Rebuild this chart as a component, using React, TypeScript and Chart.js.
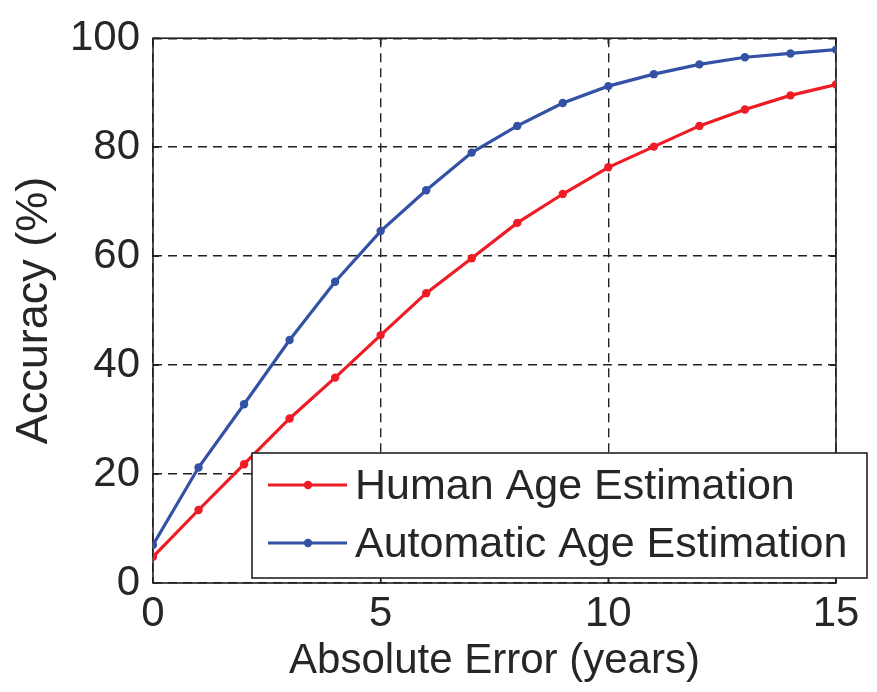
import React, { useEffect, useRef } from "react";
import { Chart, registerables } from "chart.js";

Chart.register(...registerables);

const errorYears = [0, 1, 2, 3, 4, 5, 6, 7, 8, 9, 10, 11, 12, 13, 14, 15];
const humanAccuracy = [4.8, 13.4, 21.8, 30.2, 37.7, 45.5, 53.2, 59.6, 66.1, 71.4, 76.3, 80.1, 83.9, 86.9, 89.5, 91.5];
const automaticAccuracy = [7.0, 21.2, 32.8, 44.6, 55.3, 64.6, 72.1, 79.0, 83.9, 88.1, 91.2, 93.4, 95.2, 96.5, 97.2, 97.9];
const seriesLabels = ["Human Age Estimation", "Automatic Age Estimation"];
const xTickValues = [0, 5, 10, 15];
const yTickValues = [0, 20, 40, 60, 80, 100];

const RED = "#ee1d25";
const BLUE = "#3352a6";
const TEXT = "#262626";
const FONT = "'Liberation Sans', Arial, Helvetica, sans-serif";

const framePlugin = {
  id: "frame",
  beforeDatasetsDraw(chart: any) {
    const { ctx, chartArea } = chart;
    const { left, right, top, bottom } = chartArea;
    ctx.save();
    ctx.strokeStyle = "#222";
    ctx.lineWidth = 1.6;
    ctx.setLineDash([]);
    ctx.strokeRect(left, top, right - left, bottom - top);
    const tl = 6;
    const xs = chart.scales.x;
    const ys = chart.scales.y;
    ctx.beginPath();
    xTickValues.forEach((v) => {
      const px = xs.getPixelForValue(v);
      ctx.moveTo(px, bottom);
      ctx.lineTo(px, bottom - tl);
      ctx.moveTo(px, top);
      ctx.lineTo(px, top + tl);
    });
    yTickValues.forEach((v) => {
      const py = ys.getPixelForValue(v);
      ctx.moveTo(left, py);
      ctx.lineTo(left + tl, py);
      ctx.moveTo(right, py);
      ctx.lineTo(right - tl, py);
    });
    ctx.stroke();
    ctx.restore();
  },
};

const legendPlugin = {
  id: "boxLegend",
  afterDatasetsDraw(chart: any) {
    const { ctx } = chart;
    const boxL = 252, boxT = 453, boxR = 867, boxB = 578;
    ctx.save();
    ctx.fillStyle = "#ffffff";
    ctx.fillRect(boxL, boxT, boxR - boxL, boxB - boxT);
    ctx.strokeStyle = "#222";
    ctx.lineWidth = 1.6;
    ctx.strokeRect(boxL, boxT, boxR - boxL, boxB - boxT);
    const rows = [485, 543];
    chart.data.datasets.forEach((ds: any, i: number) => {
      const y = rows[i];
      ctx.strokeStyle = ds.borderColor;
      ctx.lineWidth = 3.2;
      ctx.beginPath();
      ctx.moveTo(268, y);
      ctx.lineTo(347, y);
      ctx.stroke();
      ctx.fillStyle = ds.borderColor;
      ctx.beginPath();
      ctx.arc(308, y, 4.2, 0, Math.PI * 2);
      ctx.fill();
      ctx.fillStyle = TEXT;
      ctx.font = `43px ${FONT}`;
      ctx.textBaseline = "middle";
      ctx.textAlign = "left";
      ctx.fillText(ds.label, 355, y + 2);
    });
    ctx.restore();
  },
};

export default function App() {
  const ref = useRef<HTMLCanvasElement | null>(null);
  useEffect(() => {
    if (!ref.current) return;
    const mk = (ys: number[]) => errorYears.map((x, i) => ({ x, y: ys[i] }));
    const chart = new Chart(ref.current, {
      type: "line",
      data: {
        datasets: [
          {
            label: seriesLabels[0],
            data: mk(humanAccuracy),
            borderColor: RED,
            backgroundColor: RED,
            borderWidth: 3.2,
            pointRadius: 4.2,
            pointBorderWidth: 0,
            tension: 0,
          },
          {
            label: seriesLabels[1],
            data: mk(automaticAccuracy),
            borderColor: BLUE,
            backgroundColor: BLUE,
            borderWidth: 3.2,
            pointRadius: 4.2,
            pointBorderWidth: 0,
            tension: 0,
          },
        ],
      },
      options: {
        responsive: false,
        animation: false,
        devicePixelRatio: 1,
        layout: { padding: { left: 0, top: 38, right: 41, bottom: 0 } },
        plugins: { legend: { display: false }, tooltip: { enabled: false } },
        scales: {
          x: {
            type: "linear",
            min: 0,
            max: 15,
            afterFit: (s: any) => {
              s.height = 109;
            },
            afterBuildTicks: (s: any) => {
              s.ticks = xTickValues.map((v) => ({ value: v }));
            },
            ticks: {
              font: { size: 42, family: FONT },
              color: TEXT,
              padding: 6,
              maxRotation: 0,
            },
            grid: {
              color: "#222",
              lineWidth: 1.4,
              drawTicks: false,
              borderDash: [9, 6],
            },
            border: { display: false, dash: [9, 6] },
            title: {
              display: true,
              text: "Absolute Error (years)",
              font: { size: 42, family: FONT },
              color: TEXT,
              padding: { top: 0, bottom: 5 },
            },
          },
          y: {
            type: "linear",
            min: 0,
            max: 100,
            afterFit: (s: any) => {
              s.width = 153;
            },
            afterBuildTicks: (s: any) => {
              s.ticks = yTickValues.map((v) => ({ value: v }));
            },
            ticks: {
              font: { size: 42, family: FONT },
              color: TEXT,
              padding: 13,
            },
            grid: {
              color: "#222",
              lineWidth: 1.4,
              drawTicks: false,
              borderDash: [9, 6],
            },
            border: { display: false, dash: [9, 6] },
            title: {
              display: true,
              text: "Accuracy (%)",
              font: { size: 45, family: FONT },
              color: TEXT,
              padding: { top: 8, bottom: 0 },
            },
          },
        },
      },
      plugins: [framePlugin, legendPlugin],
    } as any);
    return () => chart.destroy();
  }, []);
  return (
    <div style={{ position: "fixed", left: 0, top: 0, width: 877, height: 692, background: "#fff" }}>
      <canvas ref={ref} width={877} height={692} style={{ width: 877, height: 692, display: "block" }} />
    </div>
  );
}
